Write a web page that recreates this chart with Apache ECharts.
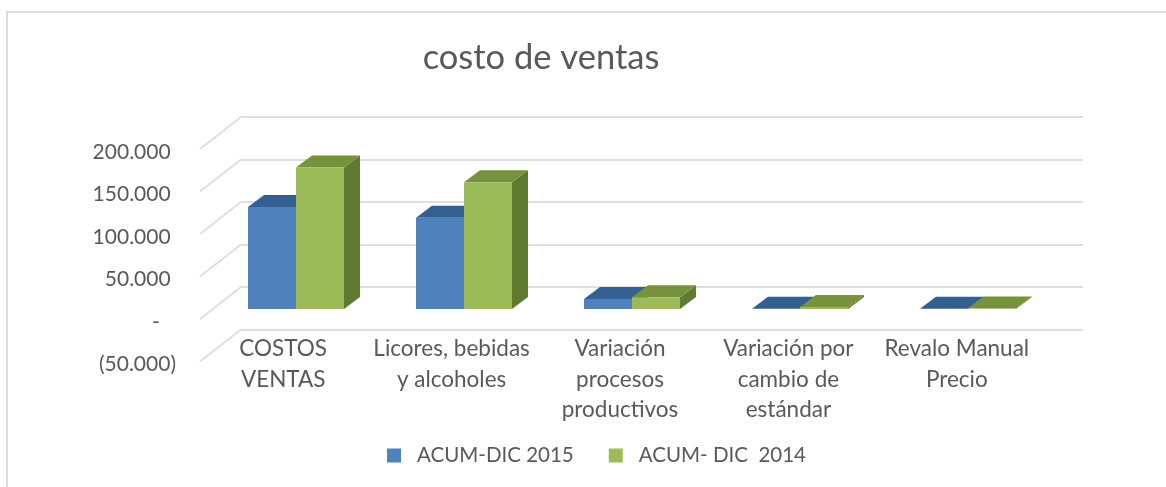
<!DOCTYPE html>
<html>
<head>
<meta charset="utf-8">
<title>costo de ventas</title>
<style>
  html, body { margin: 0; padding: 0; background: #fff; }
  #main { width: 1166px; height: 487px; }
</style>
<script src="https://cdn.jsdelivr.net/npm/echarts@6/dist/echarts.min.js"></script>
</head>
<body>
<div id="main"></div>
<script>
var categories = ['COSTOS\nVENTAS', 'Licores, bebidas\ny alcoholes', 'Variación\nprocesos\nproductivos', 'Variación por\ncambio de\nestándar', 'Revalo Manual\nPrecio']
var acum2015 = [120000, 107500, 11800, 300, 200]
var acum2014 = [166500, 149000, 13800, 2500, 500]
var tickValues = [-50000, 0, 50000, 100000, 150000, 200000]
var tickLabels = ['(50.000)', '-   ', '50.000 ', '100.000 ', '150.000 ', '200.000 ']

var textColor = '#595959'
var fontName = 'Lato'
var gridColor = '#dfdfdf'

// 3d look: bars sit on a plane between the back wall and the front labels
var barDx = 16
var barDy = 12

function poly(points, color) {
  return { type: 'polygon', shape: { points: points }, style: { fill: color } }
}

function bar3d(colors, side) {
  return function(params, api) {
    var top = api.coord([api.value(0), api.value(1)])
    var base = api.coord([api.value(0), 0])
    var w = api.size([1, 0])[0] * 0.2857
    var x0 = side < 0 ? top[0] - w : top[0]
    var x1 = x0 + w
    return {
      type: 'group',
      children: [
        poly([[x1, top[1]], [x1 + barDx, top[1] - barDy], [x1 + barDx, base[1] - barDy], [x1, base[1]]], colors[2]),
        poly([[x0, top[1]], [x0 + barDx, top[1] - barDy], [x1 + barDx, top[1] - barDy], [x1, top[1]]], colors[1]),
        poly([[x0, top[1]], [x1, top[1]], [x1, base[1]], [x0, base[1]]], colors[0])
      ]
    }
  }
}

function floorDiagonal(params, api) {
  var y = api.coord([0, api.value(0)])[1]
  var x = params.coordSys.x
  return {
    type: 'line',
    shape: { x1: x + 29, y1: y - 22, x2: x - 12, y2: y + 10 },
    style: { stroke: gridColor, lineWidth: 2 }
  }
}

var chart = echarts.init(document.getElementById('main'))
chart.setOption({
  animation: false,
  backgroundColor: '#fff',
  title: {
    text: 'costo de ventas',
    left: 536,
    top: 35,
    textAlign: 'center',
    textStyle: { color: textColor, fontFamily: fontName, fontSize: 34.5, fontWeight: 'normal' }
  },
  legend: {
    data: ['ACUM-DIC 2015', 'ACUM- DIC  2014'],
    left: 382,
    top: 440,
    icon: 'rect',
    itemWidth: 14,
    itemHeight: 14,
    itemGap: 35,
    textStyle: { color: textColor, fontFamily: fontName, fontSize: 20.5, padding: [0, 0, 0, 11] }
  },
  graphic: [{
    type: 'polyline',
    shape: { points: [[7, 490], [7, 12], [1170, 12]] },
    style: { stroke: '#dcdcdc', fill: null, lineWidth: 2 },
    silent: true
  }],
  grid: [
    { left: 241, top: 117, width: 842, height: 212.5 }, // back wall
    { left: 212, top: 139, width: 840, height: 212.5 }, // bars
    { left: 199, top: 152, width: 842, height: 212.5 }  // labels
  ],
  xAxis: [
    { gridIndex: 0, type: 'category', data: categories, show: false },
    { gridIndex: 1, type: 'category', data: categories, show: false },
    {
      gridIndex: 2,
      type: 'category',
      data: categories,
      axisLine: { show: false },
      axisTick: { show: false },
      axisLabel: {
        interval: 0,
        margin: -31,
        color: textColor,
        fontFamily: fontName,
        fontSize: 22.5,
        lineHeight: 30.5,
        verticalAlign: 'top'
      }
    }
  ],
  yAxis: [
    {
      gridIndex: 0, type: 'value', min: -50000, max: 200000, interval: 50000,
      axisLine: { show: false }, axisTick: { show: false }, axisLabel: { show: false },
      splitLine: { lineStyle: { color: gridColor, width: 2 } }
    },
    {
      gridIndex: 1, type: 'value', min: -50000, max: 200000, interval: 50000,
      axisLine: { show: false }, axisTick: { show: false }, axisLabel: { show: false },
      splitLine: { show: false }
    },
    {
      gridIndex: 2, type: 'value', min: -50000, max: 200000, interval: 50000,
      axisLine: { show: false }, axisTick: { show: false }, splitLine: { show: false },
      axisLabel: {
        margin: 23,
        color: textColor,
        fontFamily: fontName,
        fontSize: 21,
        formatter: function(value) {
          return tickLabels[tickValues.indexOf(value)]
        }
      }
    }
  ],
  series: [
    {
      type: 'custom',
      name: 'diagonals',
      xAxisIndex: 1,
      yAxisIndex: 1,
      silent: true,
      z: 1,
      data: tickValues.map(function(v) { return [v] }),
      encode: { y: 0 },
      renderItem: floorDiagonal
    },
    {
      type: 'custom',
      name: 'ACUM-DIC 2015',
      xAxisIndex: 1,
      yAxisIndex: 1,
      z: 2,
      itemStyle: { color: '#4f81bd' },
      data: acum2015.map(function(v, i) { return [i, v] }),
      encode: { x: 0, y: 1 },
      renderItem: bar3d(['#4f81bd', '#335f91', '#2f5a8a'], -1)
    },
    {
      type: 'custom',
      name: 'ACUM- DIC  2014',
      xAxisIndex: 1,
      yAxisIndex: 1,
      z: 3,
      itemStyle: { color: '#9bbb59' },
      data: acum2014.map(function(v, i) { return [i, v] }),
      encode: { x: 0, y: 1 },
      renderItem: bar3d(['#9bbb59', '#76923c', '#617a32'], 1)
    }
  ]
})
</script>
</body>
</html>
